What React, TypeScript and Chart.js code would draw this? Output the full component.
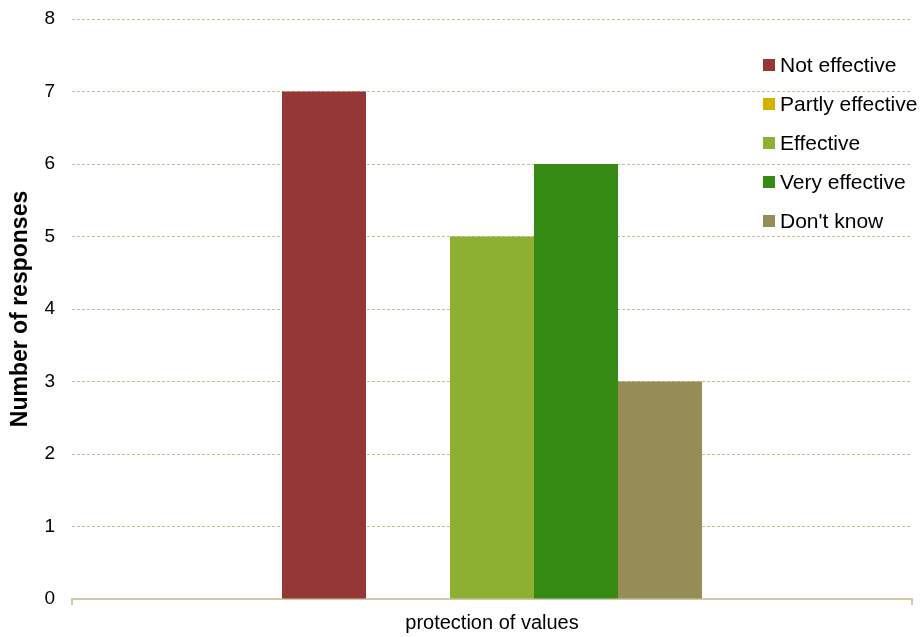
import React, { useEffect, useRef } from "react";
import { Chart, registerables } from "chart.js";

Chart.register(...registerables);

// Survey results: one category, one bar per answer option
const categories = ["protection of values"];
const seriesNames = ["Not effective", "Partly effective", "Effective", "Very effective", "Don't know"];
const seriesValues = [7, 0, 5, 6, 3];
const seriesColors = ["#953735", "#d4b000", "#8eb032", "#348a12", "#968c55"];
const yTickMin = 0;
const yTickMax = 8;
const yTickStep = 1;
const yTitle = "Number of responses";

const FONT = "'Liberation Sans', Arial, sans-serif";
const GRID = "#c6bf98";
const AXIS = "#cfc9a6";

// Vertical legend laid over the right side of the plot area
const overlayLegend = {
  id: "overlayLegend",
  afterDraw(chart: Chart) {
    const ctx = chart.ctx;
    const x0 = 763;
    const y0 = 65;
    const rowGap = 39;
    const box = 12;
    ctx.save();
    ctx.font = `21px ${FONT}`;
    ctx.textBaseline = "middle";
    ctx.textAlign = "left";
    chart.data.datasets.forEach((ds: any, i: number) => {
      const cy = y0 + i * rowGap;
      ctx.fillStyle = ds.backgroundColor as string;
      ctx.fillRect(x0, cy - box / 2, box, box);
      ctx.fillStyle = "#000000";
      ctx.fillText(ds.label, x0 + 17, cy + 1);
    });
    ctx.restore();
  },
};

export default function App() {
  const canvasRef = useRef<HTMLCanvasElement | null>(null);

  useEffect(() => {
    document.body.style.margin = "0";
    const canvas = canvasRef.current;
    if (!canvas) return;

    const chart = new Chart(canvas, {
      type: "bar",
      data: {
        labels: categories,
        datasets: seriesNames.map((name, i) => ({
          label: name,
          data: [seriesValues[i]],
          backgroundColor: seriesColors[i],
          borderWidth: 0,
          categoryPercentage: 0.5,
          barPercentage: 1.0,
        })),
      },
      options: {
        responsive: false,
        animation: false,
        layout: { padding: { top: 19, right: 12, bottom: 0, left: 0 } },
        plugins: {
          legend: { display: false },
          tooltip: { enabled: false },
        },
        scales: {
          x: {
            offset: true,
            grid: {
              display: true,
              offset: true,
              drawOnChartArea: false,
              drawTicks: true,
              tickLength: 6,
              color: AXIS,
              lineWidth: 2,
            },
            border: { display: true, color: AXIS, width: 2 },
            ticks: {
              color: "#000000",
              font: { family: FONT, size: 20 },
              padding: 6,
            },
            afterFit(scale: any) {
              scale.height = 38;
              scale.paddingLeft = 0;
              scale.paddingRight = 0;
            },
          },
          y: {
            min: yTickMin,
            max: yTickMax,
            ticks: {
              stepSize: yTickStep,
              color: "#000000",
              font: { family: FONT, size: 19 },
              padding: 17,
            },
            grid: {
              color: (c: any) => (c.tick && c.tick.value === 0 ? "rgba(0,0,0,0)" : GRID),
              lineWidth: 1,
              drawTicks: false,
            },
            border: { display: false, dash: [3, 2] },
            title: {
              display: true,
              text: yTitle,
              color: "#000000",
              font: { family: FONT, size: 23, weight: "bold" },
              padding: { top: 7, bottom: 0 },
            },
            afterFit(scale: any) {
              scale.width = 72;
              scale.paddingTop = 0;
              scale.paddingBottom = 0;
            },
          },
        },
      },
      plugins: [overlayLegend],
    });

    return () => chart.destroy();
  }, []);

  return (
    <div style={{ position: "absolute", left: 0, top: 0, width: 924, height: 637, background: "#ffffff" }}>
      <canvas ref={canvasRef} width={924} height={637} style={{ display: "block" }} />
    </div>
  );
}
